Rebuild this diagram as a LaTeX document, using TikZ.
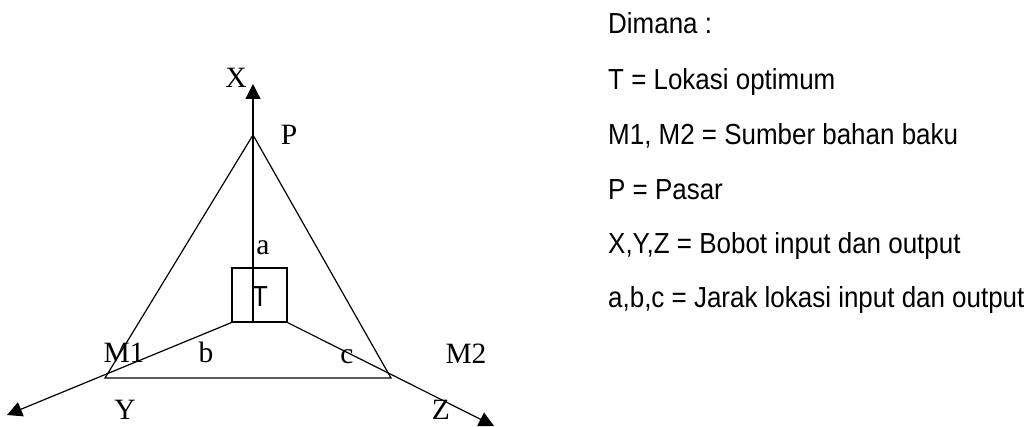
\documentclass[tikz,border=0pt]{standalone}
\usepackage{fontspec}
\setmainfont{Liberation Serif}
\newfontfamily\narrowsans[FakeStretch=0.895]{Liberation Sans}
\usetikzlibrary{arrows.meta}

\begin{document}
\begin{tikzpicture}[x=1pt,y=-1pt,
  lab/.style={font=\fontsize{29.5}{29.5}\selectfont, inner sep=0pt, anchor=base},
  legend/.style={font=\narrowsans\fontsize{29}{29}\selectfont, inner sep=0pt, anchor=base west},
  ln/.style={line width=1.2pt},
  arr/.style={ln, -{Triangle[length=15pt,width=15pt]}},
  boxT/.style={draw, ln, minimum width=55pt, minimum height=54pt, inner sep=0pt,
    font=\narrowsans\fontsize{29}{29}\selectfont}
]
\useasboundingbox (0,0) rectangle (1034,427);

% points
\coordinate (P) at (253,135);
\coordinate (M1) at (105,378);
\coordinate (M2) at (391,378);
\coordinate (Xtip) at (253,84);
\coordinate (Ytip) at (7,415);
\coordinate (Ztip) at (494,426);
\node[boxT] (T) at (259.5,295) {};
\node[font=\narrowsans\fontsize{29}{29}\selectfont, inner sep=0pt, anchor=base] (Tlab) at (260,307) {T};
\coordinate (Tb) at (253,322);

% triangle
\draw[ln, line join=miter] (P) -- (M1) -- (M2) -- cycle;
% axes
\draw[arr] (Tb) -- (Xtip);
\draw[arr] (T.south west) -- (Ytip);
\draw[arr] (T.south east) -- (Ztip);

% labels
\node[lab] (lX) at (236,88) {X};
\node[lab] (lP) at (289,145) {P};
\node[lab] (la) at (263,255) {a};
\node[lab] (lM1) at (124,363) {M1};
\node[lab] (lb) at (206,363) {b};
\node[lab] (lc) at (347,364) {c};
\node[lab] (lM2) at (466,364) {M2};
\node[lab] (lY) at (125,420) {Y};
\node[lab] (lZ) at (441,420) {Z};

% legend
\node[legend] (d0) at (608,34) {Dimana :};
\node[legend] (d1) at (608,90) {T = Lokasi optimum};
\node[legend] (d2) at (608,145) {M1, M2 = Sumber bahan baku};
\node[legend] (d3) at (608,200) {P = Pasar};
\node[legend] (d4) at (608,254) {X,Y,Z = Bobot input dan output};
\node[legend] (d5) at (608,308) {a,b,c = Jarak lokasi input dan output};
\end{tikzpicture}
\end{document}
